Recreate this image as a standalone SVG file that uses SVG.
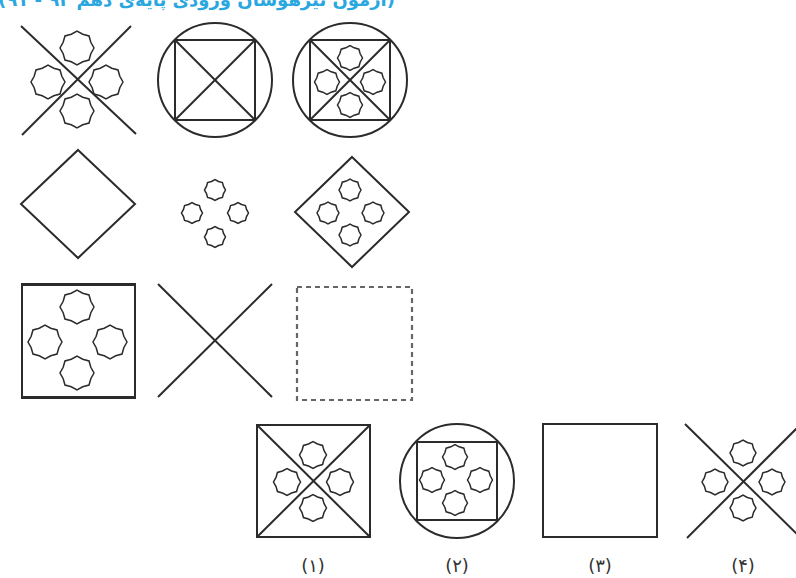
<svg xmlns="http://www.w3.org/2000/svg" xmlns:xlink="http://www.w3.org/1999/xlink" width="796" height="578" viewBox="0 0 796 578">
<style>
.ln{stroke:#2b2b2b;stroke-width:2;fill:none}
.st{stroke:#2b2b2b;stroke-width:1.5;fill:none;vector-effect:non-scaling-stroke}
.dash{stroke:#666;stroke-width:2.2;fill:none;stroke-dasharray:5 4}
.lbl{font-family:"DejaVu Sans","Noto Sans",sans-serif;font-size:18px;fill:#333;text-anchor:middle}
.hdr{font-family:"DejaVu Sans","Noto Sans",sans-serif;font-size:18px;font-weight:bold;fill:#2aa7df}
</style>
<defs>
<path id="star" class="st" d="M1,0 L.813,.337 L.7071,.7071 L.337,.813 L0,1 L-.337,.813 L-.7071,.7071 L-.813,.337 L-1,0 L-.813,-.337 L-.7071,-.7071 L-.337,-.813 L0,-1 L.337,-.813 L.7071,-.7071 L.813,-.337 Z"/>
</defs>
<rect width="796" height="578" fill="#fff"/>
<text class="hdr" x="395" y="6" direction="rtl" text-anchor="start">(آزمون تیزهوشان ورودی پایه‌ی دهم ۹۲ - ۹۱)</text>

<g id="figA">
<line class="ln" x1="21" y1="26" x2="136" y2="134"/>
<line class="ln" x1="131" y1="26" x2="22" y2="135"/>
<use href="#star" transform="translate(77,48) scale(17)"/>
<use href="#star" transform="translate(48,82) scale(17)"/>
<use href="#star" transform="translate(106,82) scale(17)"/>
<use href="#star" transform="translate(77,111) scale(17)"/>
</g>

<g id="figB">
<circle class="ln" cx="215" cy="80" r="57"/>
<rect class="ln" x="175" y="40" width="80" height="80"/>
<line class="ln" x1="175" y1="40" x2="255" y2="120"/>
<line class="ln" x1="255" y1="40" x2="175" y2="120"/>
</g>

<g id="figC">
<circle class="ln" cx="350" cy="80" r="57"/>
<rect class="ln" x="310" y="40" width="80" height="80"/>
<line class="ln" x1="310" y1="40" x2="390" y2="120"/>
<line class="ln" x1="390" y1="40" x2="310" y2="120"/>
<use href="#star" transform="translate(350,58) scale(12.5)"/>
<use href="#star" transform="translate(327,82) scale(12.5)"/>
<use href="#star" transform="translate(373,82) scale(12.5)"/>
<use href="#star" transform="translate(350,105) scale(12.5)"/>
</g>

<g id="figD">
<polygon class="ln" points="78,150 135,204 78,258 21,204"/>
</g>

<g id="figE">
<use href="#star" transform="translate(215,190) scale(10.5)"/>
<use href="#star" transform="translate(192,213) scale(10.5)"/>
<use href="#star" transform="translate(238,213) scale(10.5)"/>
<use href="#star" transform="translate(215,237) scale(10.5)"/>
</g>

<g id="figF">
<polygon class="ln" points="352,157 409,212 352,267 295,212"/>
<use href="#star" transform="translate(350,190) scale(11)"/>
<use href="#star" transform="translate(328,213) scale(11)"/>
<use href="#star" transform="translate(373,213) scale(11)"/>
<use href="#star" transform="translate(350,235) scale(11)"/>
</g>

<g id="figG">
<rect class="ln" x="22" y="284" width="113" height="114"/>
<line class="ln" x1="21" y1="285" x2="136" y2="285" stroke-width="3"/>
<line class="ln" x1="21" y1="397" x2="136" y2="397" stroke-width="3"/>
<use href="#star" transform="translate(77,307) scale(17)"/>
<use href="#star" transform="translate(45,342) scale(17)"/>
<use href="#star" transform="translate(110,342) scale(17)"/>
<use href="#star" transform="translate(77,373) scale(17)"/>
</g>

<g id="figH">
<line class="ln" x1="158" y1="284" x2="272" y2="397"/>
<line class="ln" x1="272" y1="284" x2="158" y2="397"/>
</g>

<g id="figI">
<rect class="dash" x="297" y="287" width="115" height="113"/>
</g>

<g id="opt1">
<rect class="ln" x="257" y="425" width="113" height="112"/>
<line class="ln" x1="257" y1="425" x2="370" y2="537"/>
<line class="ln" x1="370" y1="425" x2="257" y2="537"/>
<use href="#star" transform="translate(313,455) scale(13.5)"/>
<use href="#star" transform="translate(287,482) scale(13.5)"/>
<use href="#star" transform="translate(340,482) scale(13.5)"/>
<use href="#star" transform="translate(313,508) scale(13.5)"/>
<text class="lbl" x="313" y="572">(۱)</text>
</g>

<g id="opt2">
<circle class="ln" cx="457" cy="481" r="57"/>
<rect class="ln" x="417" y="442" width="80" height="78"/>
<line class="ln" x1="417" y1="442" x2="497" y2="442" stroke-width="3"/>
<use href="#star" transform="translate(455,457) scale(12.5)"/>
<use href="#star" transform="translate(432,480) scale(12.5)"/>
<use href="#star" transform="translate(480,480) scale(12.5)"/>
<use href="#star" transform="translate(455,503) scale(12.5)"/>
<text class="lbl" x="457" y="572">(۲)</text>
</g>

<g id="opt3">
<rect class="ln" x="543" y="424" width="114" height="113" stroke-width="2.4"/>
<text class="lbl" x="600" y="572">(۳)</text>
</g>

<g id="opt4">
<line class="ln" x1="685" y1="424" x2="801" y2="538"/>
<line class="ln" x1="801" y1="424" x2="687" y2="538"/>
<use href="#star" transform="translate(743,453) scale(13)"/>
<use href="#star" transform="translate(715,482) scale(13)"/>
<use href="#star" transform="translate(772,482) scale(13)"/>
<use href="#star" transform="translate(743,508) scale(13)"/>
<text class="lbl" x="743" y="572">(۴)</text>
</g>
</svg>
